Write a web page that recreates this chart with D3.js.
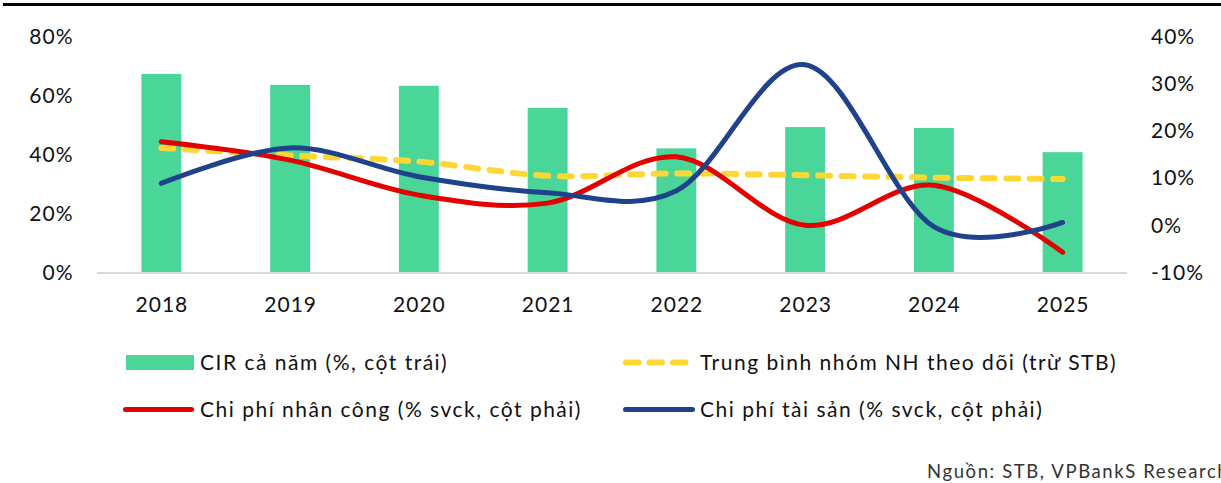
<!DOCTYPE html>
<html>
<head>
<meta charset="utf-8">
<script src="https://cdn.jsdelivr.net/npm/d3@7/dist/d3.min.js"></script>
<style>
  html, body { margin: 0; padding: 0; background: #fff; }
  svg { display: block; font-family: "Lato", "Open Sans", sans-serif; }
</style>
</head>
<body>
<svg id="chart" width="1221" height="483"></svg>
<script>
// Years on the x axis
const years = ["2018", "2019", "2020", "2021", "2022", "2023", "2024", "2025"];
// Full-year cost-to-income ratio, % (left axis)
const cir = [67.3, 63.6, 63.3, 55.8, 42.1, 49.3, 49.0, 40.8];
// Peer-group average excluding STB, % (right axis)
const peerAvg = [16.4, 14.8, 13.5, 10.5, 11.0, 10.6, 10.1, 9.8];
// Staff cost growth, % yoy (right axis)
const staffCost = [17.7, 13.8, 6.4, 4.7, 14.5, 0.0, 8.5, -5.7];
// Asset cost growth, % yoy (right axis)
const assetCost = [8.9, 16.4, 10.3, 6.9, 7.3, 34.0, -0.3, 0.6];
// Axis ticks
const leftTicks = [0, 20, 40, 60, 80];
const rightTicks = [-10, 0, 10, 20, 30, 40];

const svg = d3.select("#chart");
const W = 1221, H = 483;
const plot = { left: 97, right: 1127, top: 36.5, bottom: 272.5 };

const x = d3.scaleBand().domain(years).range([plot.left, plot.right])
  .paddingInner(0.69).paddingOuter(0.345);
const yL = d3.scaleLinear().domain([0, 80]).range([plot.bottom, plot.top]);
const yR = d3.scaleLinear().domain([-10, 40]).range([plot.bottom, plot.top]);
const cx = d => x(d) + x.bandwidth() / 2;

const colors = { bar: "#4AD699", peer: "#FDD835", staff: "#E30000", asset: "#1F428A" };
const textColor = "#111";

// top rule
svg.append("line").attr("x1", 3).attr("x2", W).attr("y1", 4.5).attr("y2", 4.5)
  .attr("stroke", "#000").attr("stroke-width", 3);

// bars
svg.append("g").selectAll("rect").data(years).join("rect")
  .attr("x", d => x(d)).attr("width", x.bandwidth())
  .attr("y", (d, i) => yL(cir[i])).attr("height", (d, i) => yL(0) - yL(cir[i]))
  .attr("fill", colors.bar);

// category axis baseline
svg.append("line").attr("x1", plot.left).attr("x2", plot.right)
  .attr("y1", plot.bottom + 0.5).attr("y2", plot.bottom + 0.5)
  .attr("stroke", "#D9D9D9").attr("stroke-width", 2);

function styleAxisText(g, size, spacing) {
  g.select(".domain").remove();
  g.selectAll("text").attr("font-size", size).attr("fill", textColor)
    .attr("font-family", "Lato, sans-serif").attr("letter-spacing", spacing);
}

// left axis
const axL = svg.append("g").attr("transform", `translate(${73.5},0)`)
  .call(d3.axisLeft(yL).tickValues(leftTicks).tickFormat(d => d + "%").tickSize(0).tickPadding(0));
styleAxisText(axL, 21, 1);

// right axis
const axR = svg.append("g").attr("transform", `translate(${1151},0)`)
  .call(d3.axisRight(yR).tickValues(rightTicks).tickFormat(d => d + "%").tickSize(0).tickPadding(0));
styleAxisText(axR, 21, 1);

// bottom axis labels
const axB = svg.append("g").attr("transform", `translate(0.5,${297})`)
  .call(d3.axisBottom(x).tickSize(0).tickPadding(0));
styleAxisText(axB, 21, 1);

const curve = d3.curveCardinal.tension(0);
const lineR = d3.line().x((d, i) => cx(years[i])).y(d => yR(d)).curve(curve);

svg.append("path").datum(peerAvg).attr("d", lineR).attr("fill", "none")
  .attr("stroke", colors.peer).attr("stroke-width", 6).attr("stroke-linecap", "round")
  .attr("stroke-dasharray", "12,11.5");
svg.append("path").datum(staffCost).attr("d", lineR).attr("fill", "none")
  .attr("stroke", colors.staff).attr("stroke-width", 5).attr("stroke-linecap", "round");
svg.append("path").datum(assetCost).attr("d", lineR).attr("fill", "none")
  .attr("stroke", colors.asset).attr("stroke-width", 5).attr("stroke-linecap", "round");

// legend
const lg = svg.append("g").attr("font-size", 21).attr("fill", textColor).attr("letter-spacing", 1.5);
lg.append("rect").attr("x", 126).attr("y", 355).attr("width", 68).attr("height", 15).attr("fill", colors.bar);
lg.append("text").attr("x", 200).attr("y", 363).attr("dy", "0.35em").text("CIR cả năm (%, cột trái)");
lg.append("line").attr("x1", 125.5).attr("x2", 191.5).attr("y1", 409.5).attr("y2", 409.5)
  .attr("stroke", colors.staff).attr("stroke-width", 5).attr("stroke-linecap", "round");
lg.append("text").attr("x", 200).attr("y", 410).attr("dy", "0.35em").text("Chi phí nhân công (% svck, cột phải)");
lg.append("line").attr("x1", 626).attr("x2", 686).attr("y1", 362.5).attr("y2", 362.5)
  .attr("stroke", colors.peer).attr("stroke-width", 6).attr("stroke-linecap", "round")
  .attr("stroke-dasharray", "12.5,11");
lg.append("text").attr("x", 700).attr("y", 363).attr("dy", "0.35em").text("Trung bình nhóm NH theo dõi (trừ STB)");
lg.append("line").attr("x1", 625.5).attr("x2", 692.5).attr("y1", 409.5).attr("y2", 409.5)
  .attr("stroke", colors.asset).attr("stroke-width", 5).attr("stroke-linecap", "round");
lg.append("text").attr("x", 700).attr("y", 410).attr("dy", "0.35em").text("Chi phí tài sản (% svck, cột phải)");

// source note
svg.append("text").attr("x", 927).attr("y", 478).attr("font-size", 18.5).attr("fill", "#333")
  .attr("letter-spacing", 1.6).text("Nguồn: STB, VPBankS Research");
</script>
</body>
</html>
